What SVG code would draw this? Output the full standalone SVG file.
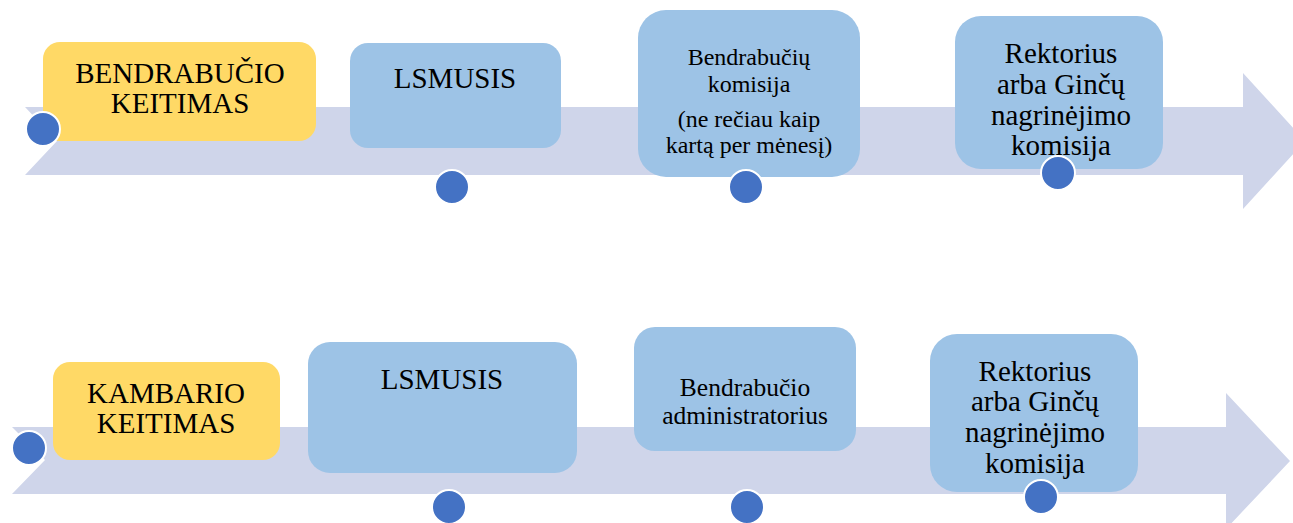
<svg xmlns="http://www.w3.org/2000/svg" width="1293" height="523" viewBox="0 0 1293 523">
<style>
.arrow{fill:#CFD5EA}
.blue{fill:#9DC3E6}
.yellow{fill:#FFD966}
.dot{fill:#4472C4;stroke:#FFFFFF;stroke-width:2}
.t{font-family:'Liberation Serif','DejaVu Serif',serif;fill:#000000;text-anchor:middle}
.big{font-size:29px}
.mid{font-size:24px}
.adm{font-size:25.5px}
</style>
<rect width="1293" height="523" fill="#FFFFFF"/>
<g id="connectors">
<polygon class="arrow" points="25,107 1243,107 1243,73 1305,141 1243,209 1243,175 25,175 57,141"/>
<polygon class="arrow" points="12,427 1226,427 1226,393 1290,461 1226,529 1226,494 12,494 45,460"/>
</g>
<g class="t" font-family="Liberation Serif, DejaVu Serif, serif">
<g id="n1"><rect class="yellow" x="43" y="42" width="273" height="99" rx="17"/>
<text class="big" x="180" y="83">BENDRABUČIO</text><text class="big" x="180" y="113">KEITIMAS</text></g>
<g id="n2"><rect class="blue" x="350" y="43" width="211" height="105" rx="18"/>
<text class="big" x="455" y="88">LSMUSIS</text></g>
<g id="n3"><rect class="blue" x="638" y="10" width="222" height="167" rx="28"/>
<text class="mid" x="749" y="65">Bendrabučių</text><text class="mid" x="749" y="92">komisija</text>
<text class="mid" x="749" y="127">(ne rečiau kaip</text><text class="mid" x="749" y="153">kartą per mėnesį)</text></g>
<g id="n4"><rect class="blue" x="955" y="16" width="208" height="153" rx="26"/>
<text class="big" x="1061" y="63">Rektorius</text><text class="big" x="1061" y="94">arba Ginčų</text>
<text class="big" x="1061" y="125">nagrinėjimo</text><text class="big" x="1061" y="155">komisija</text></g>
<g id="n5"><rect class="yellow" x="53" y="362" width="227" height="98" rx="17"/>
<text class="big" x="166" y="403">KAMBARIO</text><text class="big" x="166" y="433">KEITIMAS</text></g>
<g id="n6"><rect class="blue" x="308" y="342" width="269" height="131" rx="22"/>
<text class="big" x="442" y="389">LSMUSIS</text></g>
<g id="n7"><rect class="blue" x="634" y="327" width="222" height="124" rx="21"/>
<text class="adm" x="745" y="396">Bendrabučio</text><text class="adm" x="745" y="424">administratorius</text></g>
<g id="n8"><rect class="blue" x="930" y="334" width="208" height="158" rx="27"/>
<text class="big" x="1035" y="381">Rektorius</text><text class="big" x="1035" y="411">arba Ginčų</text>
<text class="big" x="1035" y="442">nagrinėjimo</text><text class="big" x="1035" y="473">komisija</text></g>
</g>
<g id="dots">
<circle class="dot" cx="43" cy="129" r="17"/>
<circle class="dot" cx="452" cy="187" r="17"/>
<circle class="dot" cx="746" cy="187" r="17"/>
<circle class="dot" cx="1058" cy="173" r="17"/>
<circle class="dot" cx="29" cy="448" r="17"/>
<circle class="dot" cx="449" cy="507" r="17"/>
<circle class="dot" cx="747" cy="507" r="17"/>
<circle class="dot" cx="1041" cy="497" r="17"/>
</g>
</svg>
